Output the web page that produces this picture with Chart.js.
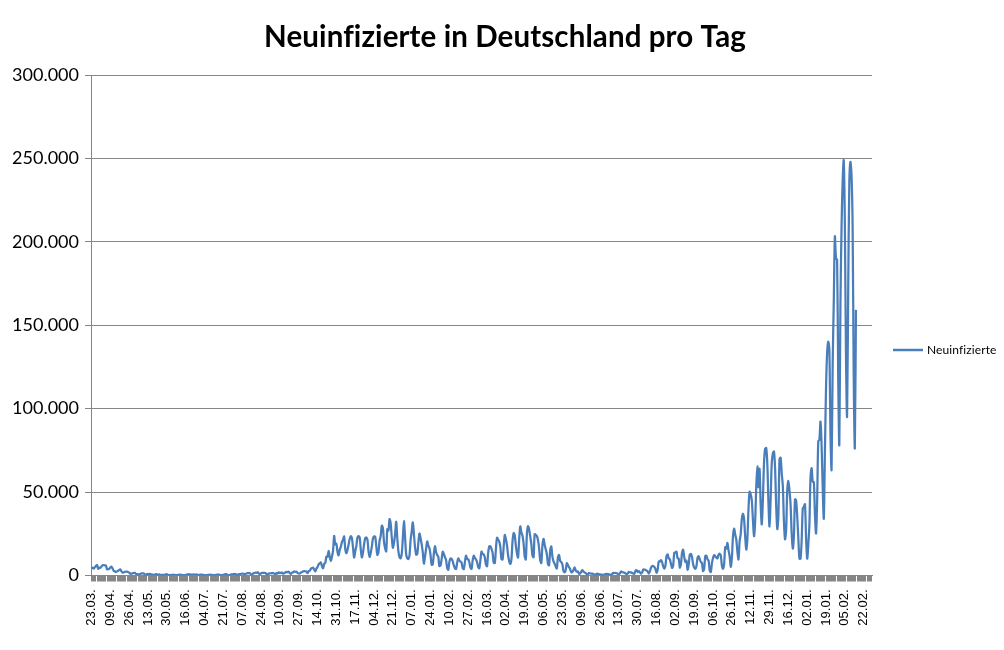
<!DOCTYPE html>
<html>
<head>
<meta charset="utf-8">
<script src="https://cdn.jsdelivr.net/npm/chart.js@4"></script>
<style>
  body { margin: 0; background: #fff; }
  #grafico { display: block; }
</style>
</head>
<body>
<canvas id="grafico" width="1004" height="650"></canvas>
<script>
var chartTitle = 'Neuinfizierte in Deutschland pro Tag';
var seriesName = 'Neuinfizierte';

// one label every 17 days
var tickLabels = ['23.03.','09.04.','26.04.','13.05.','30.05.','16.06.','04.07.','21.07.','07.08.','24.08.',
    '10.09.','27.09.','14.10.','31.10.','17.11.','04.12.','21.12.','07.01.','24.01.','10.02.',
    '27.02.','16.03.','02.04.','19.04.','06.05.','23.05.','09.06.','26.06.','13.07.','30.07.',
    '16.08.','02.09.','19.09.','06.10.','26.10.','12.11.','29.11.','16.12.','02.01.','19.01.',
    '05.02.','22.02.'];
var labelStep = 17;
var categoryCount = 705;

var yTicks = [0, 50000, 100000, 150000, 200000, 250000, 300000];

// 2020
var cases2020 = [
    4062,4764,4118,4954,5780,6294,3965,
    4751,4615,5453,6156,6174,6082,5936,
    3677,3834,4003,4974,5323,4133,2821,
    2537,2082,2486,2866,3380,3609,2458,
    1775,1785,2237,2352,2337,2055,1737,
    1018,1144,1304,1478,1639,945,793,
    697,685,947,1284,1209,1251,667,
    357,933,798,933,913,620,583,
    342,513,797,745,460,638,431,
    289,432,362,353,741,738,286,
    333,213,342,285,507,301,298,
    214,350,555,301,555,247,192,
    247,345,580,770,601,687,
    503,587,630,510,477,687,256,
    262,466,503,446,422,239,297,
    219,397,442,534,395,378,248,
    159,351,583,534,583,383,202,
    249,454,569,815,781,305,287,
    340,633,684,902,870,955,240,
    509,879,741,1045,1147,1122,436,
    966,1226,1445,1449,1415,625,561,
    1390,1510,1707,1586,2034,1247,739,
    1278,1576,1507,1571,1479,786,610,
    1256,1218,1311,1453,1484,988,814,
    1499,1176,1892,1484,1630,1788,1074,
    1407,1901,2194,1916,2297,1345,922,
    1769,1971,2507,2153,2297,1411,1192,
    1192,1798,2089,2503,2673,2563,2279,
    1382,2639,2828,4058,4516,4721,3483,
    2467,4122,5132,6638,7334,7830,5587,
    4325,6868,7595,11287,11242,14714,11176,
    8685,11409,14964,23700,18681,19059,14177,
    12097,15352,17214,19990,21506,23399,16017,
    13363,15332,18487,21866,23542,22461,16947,
    10824,14419,17561,22609,23648,22964,15741,
    10864,13554,18633,22268,22806,21695,14611,
    11169,13604,17270,22046,23449,23318,17767,
    12332,14054,20815,23679,29875,28438,20200,
    16362,14432,27728,26923,33777,31300,22771,
    16643,19528,24740,32195,22188,14455,10976,
    10315,12892,22459,32552,22924,12690,10315
];

// 2021
var cases2021 = [
    9847,11897,21237,26391,31849,24694,16946,
    12497,12802,19600,25164,22368,18678,13882,
    7141,11369,15974,20398,17862,16417,12257,
    6408,6729,13202,17553,14022,12321,11192,
    5608,6114,9705,14211,12908,11042,9362,
    4535,3379,8072,10237,9860,8616,6114,
    4426,3856,7556,10207,9113,8354,7676,
    4369,3883,8007,11869,9997,9762,7890,
    4732,3943,9019,11912,10580,9557,8103,
    5011,4252,9146,14356,12834,12674,10790,
    6604,5480,13435,17504,17482,16033,13733,
    7709,7485,15813,22657,21573,20472,17176,
    9872,9549,17051,24300,21888,18129,12196,
    8497,6885,9677,20407,25464,24097,17855,
    13245,10810,21693,29426,25831,23804,19185,
    11437,9609,24884,29518,27543,23392,18773,
    11907,10976,24736,24329,23681,21199,16290,
    9160,7534,18034,21953,18485,15685,12656,
    6922,6125,14909,17419,11336,8500,7082,
    5412,4209,11040,12298,8769,8004,6714,
    2682,1911,3187,7380,6313,4996,3852,
    1978,2041,3159,4917,3165,2294,2440,
    1117,1204,2227,3254,2440,1911,1489,
    803,549,1455,1330,1108,1076,923,
    538,346,1016,1024,828,617,539,
    472,329,562,892,920,771,745,
    597,311,968,1548,1456,1548,1374,
    1047,608,1426,2454,2035,1899,1706,
    1292,746,1183,2203,1890,1919,1526,
    1168,1059,2768,3142,2089,2578,1982,
    1168,1766,3571,3539,3448,2951,2480,
    1183,2480,4658,5638,5644,5193,3912,
    1645,3480,8323,8400,9280,8092,5495,
    4161,5747,11561,12626,10303,9761,7050,
    4559,5780,13531,13715,14251,10453,10207,
    4749,6726,13565,15431,11022,8126,8905,
    3472,6325,12455,12969,11172,6911,4799,
    4040,5511,10454,11547,9727,8088,7436,
    2662,4171,11780,11903,9727,9025,2976,
    2073,7384,10454,12150,11547,10600,
    10250,12500,13000,12000,6000,
    4056,6771,17015,16077,19572,15145,11518,
    5211,10473,23212,28037,24668,21543,14153,
    9658,20398,25000,33949,37120,34002,23543,
    15513,21832,39676,50196,48640,45081,33498,
    23607,32048,52826,65371,52970,63924,42727,
    30643,45326,66884,75961,76414,67125,44401,
    29364,45753,67186,73209,74352,64510,42055,
    27836,36059,69601,70611,61288,53697,32646,
    21743,27415,51301,56677,50968,42484,25138,
    16086,23428,45659,44927,35431,22214,10100,
    10100,21080,40043,41240,42770
];

// 2022
var cases2022 = [
    22294,10100,
    18518,30561,58912,64340,56335,55889,36552,
    25255,45690,80430,81417,92223,78022,52504,
    34145,74405,112323,133536,140160,135461,85440,
    63393,126955,164000,203136,190148,189166,118970,
    78318,162613,208498,236120,248838,210673,133173,
    95267,169571,234250,247862,240172,209789,119195,
    76465,159217
];

var values = cases2020.concat(cases2021, cases2022);
var categories = [];
for (var i = 0; i < categoryCount; i++) {
    categories.push(i % labelStep === 0 ? (tickLabels[i / labelStep] || '') : '');
}

function punkte(v) {
    return String(v).replace(/\B(?=(\d{3})+(?!\d))/g, '.');
}

var lineColor = '#4a7ebb';
var gridColor = '#868686';

var extras = {
    id: 'extras',
    afterDraw: function (chart) {
        var c = chart.ctx;
        c.save();
        c.fillStyle = '#000';
        c.letterSpacing = '0.1px'; // keeps "f" and "i" apart
        c.font = 'bold 29.5px Lato';
        c.textAlign = 'center';
        c.textBaseline = 'middle';
        c.fillText(chartTitle, 505, 37);

        c.strokeStyle = lineColor;
        c.lineWidth = 2.5;
        c.beginPath();
        c.moveTo(893, 350);
        c.lineTo(923, 350);
        c.stroke();
        c.font = '12px Lato';
        c.textAlign = 'left';
        c.fillText(seriesName, 927, 350);
        c.restore();
    }
};

var ctx = document.querySelector('#grafico').getContext('2d');
var lineChart = new Chart(ctx, {
    type: 'line',
    data: {
        labels: categories,
        datasets: [{
            label: seriesName,
            data: values,
            borderColor: lineColor,
            backgroundColor: lineColor,
            borderWidth: 2.25,
            pointRadius: 0,
            tension: 0.3,
            fill: false
        }]
    },
    options: {
        responsive: false,
        animation: false,
        layout: { padding: { left: 0, right: 132, top: 75, bottom: 0 } },
        plugins: {
            legend: { display: false },
            title: { display: false },
            tooltip: { enabled: false }
        },
        scales: {
            x: {
                offset: true,
                afterFit: function (s) { s.height = 74.5; },
                grid: { drawOnChartArea: false, drawTicks: true, tickLength: 6, color: gridColor },
                border: { color: gridColor },
                ticks: {
                    autoSkip: false,
                    maxRotation: 90,
                    minRotation: 90,
                    padding: 8,
                    color: '#000',
                    font: { family: 'Liberation Sans', size: 13 }
                }
            },
            y: {
                min: 0,
                max: 300000,
                afterFit: function (s) { s.width = 91; },
                afterBuildTicks: function (s) { s.ticks = yTicks.map(function (v) { return { value: v }; }); },
                grid: { color: gridColor, tickLength: 6 },
                border: { color: gridColor },
                ticks: {
                    padding: 6,
                    color: '#000',
                    font: { family: 'Lato', size: 18 },
                    callback: function (v) { return punkte(v); }
                }
            }
        }
    },
    plugins: [extras]
});
</script>
</body>
</html>
